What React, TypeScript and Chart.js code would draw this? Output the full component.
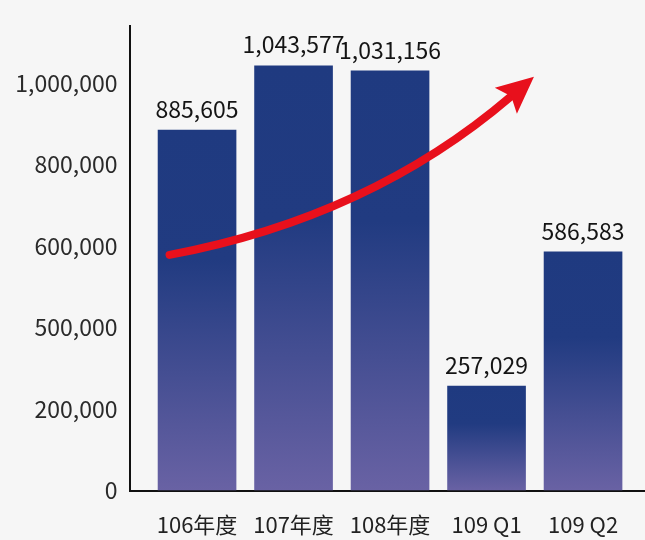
import React, { useEffect, useRef } from "react";
import { Chart, registerables } from "chart.js";

Chart.register(...registerables);

const categories: string[] = ["106年度", "107年度", "108年度", "109 Q1", "109 Q2"];
const values: number[] = [885605, 1043577, 1031156, 257029, 586583];
const valueLabels: string[] = ["885,605", "1,043,577", "1,031,156", "257,029", "586,583"];
const yTickValues: number[] = [0, 200000, 400000, 600000, 800000, 1000000];
const yTickLabels: string[] = ["0", "200,000", "500,000", "600,000", "800,000", "1,000,000"];
// trend arrow path in data space: [x (category index), y (value)]
const arrowStart: [number, number] = [-0.285, 578600];
const arrowControl: [number, number] = [1.79, 671100];
const arrowEnd: [number, number] = [3.2, 957000];

const FONT = '"Noto Sans CJK TC", "Noto Sans", sans-serif';

export default function App() {
  const ref = useRef<HTMLCanvasElement | null>(null);
  useEffect(() => {
    document.body.style.margin = "0";
    const canvas = ref.current;
    if (!canvas) return;

    const barColor = (ctx: any) => {
      const chart = ctx.chart;
      const ys = chart.scales && chart.scales.y;
      if (!chart.chartArea || !ys || ctx.type !== "data") return "#1f3a80";
      const top = ys.getPixelForValue(values[ctx.dataIndex]);
      const base = ys.getPixelForValue(0);
      const g = chart.ctx.createLinearGradient(0, top, 0, base);
      g.addColorStop(0, "#1f3a80");
      g.addColorStop(0.36, "#213b81");
      g.addColorStop(1, "#6962a4");
      return g;
    };

    const overlay = {
      id: "overlay",
      afterDatasetsDraw(chart: any) {
        const c = chart.ctx;
        const xs = chart.scales.x;
        const ys = chart.scales.y;
        c.save();
        c.font = `23px ${FONT}`;
        c.fillStyle = "#141414";
        c.textAlign = "center";
        c.textBaseline = "alphabetic";
        const meta = chart.getDatasetMeta(0);
        meta.data.forEach((el: any, i: number) => {
          c.fillText(valueLabels[i], el.x, el.y - 12);
        });
        c.restore();
        const p0 = { x: xs.getPixelForValue(arrowStart[0]), y: ys.getPixelForValue(arrowStart[1]) };
        const cp = { x: xs.getPixelForValue(arrowControl[0]), y: ys.getPixelForValue(arrowControl[1]) };
        const p2 = { x: xs.getPixelForValue(arrowEnd[0]), y: ys.getPixelForValue(arrowEnd[1]) };
        const dx = p2.x - cp.x;
        const dy = p2.y - cp.y;
        const len = Math.hypot(dx, dy);
        const ux = dx / len;
        const uy = dy / len;
        const px = -uy;
        const py = ux;
        const red = "#e8101c";
        c.save();
        c.strokeStyle = red;
        c.lineWidth = 8;
        c.lineCap = "round";
        c.beginPath();
        c.moveTo(p0.x, p0.y);
        c.quadraticCurveTo(cp.x, cp.y, p2.x + ux * 6, p2.y + uy * 6);
        c.stroke();
        const headLen = 37;
        const halfW = 17;
        const tip = { x: p2.x + ux * headLen, y: p2.y + uy * headLen };
        c.fillStyle = red;
        c.beginPath();
        c.moveTo(tip.x, tip.y);
        c.lineTo(p2.x + px * halfW, p2.y + py * halfW);
        c.lineTo(p2.x + ux * 7, p2.y + uy * 7);
        c.lineTo(p2.x - px * halfW, p2.y - py * halfW);
        c.closePath();
        c.fill();
        c.restore();
      },
    };

    const chart = new Chart(canvas, {
      type: "bar",
      data: {
        datasets: [
          {
            data: values.map((v, i) => ({ x: i, y: v })),
            backgroundColor: barColor,
            borderWidth: 0,
            barPercentage: 0.815,
            categoryPercentage: 1,
          },
        ],
      },
      options: {
        animation: false,
        responsive: true,
        maintainAspectRatio: false,
        layout: { padding: { top: 22, right: 0, left: 0, bottom: 0 } },
        plugins: { legend: { display: false }, tooltip: { enabled: false } },
        scales: {
          x: {
            type: "linear",
            min: -0.7,
            max: 4.642,
            offset: false,
            grace: 0,
            grid: { display: false, drawTicks: false, offset: false },
            border: { display: true, color: "#111", width: 2 },
            afterBuildTicks: (scale: any) => {
              scale.ticks = categories.map((_, i) => ({ value: i }));
            },
            afterFit: (scale: any) => {
              scale.height = 49.5;
            },
            ticks: {
              padding: 21,
              color: "#222",
              font: { family: FONT, size: 22 },
              maxRotation: 0,
              autoSkip: false,
              callback: (v: any) => categories[Math.round(Number(v))] ?? "",
            },
          },
          y: {
            min: 0,
            max: 1141000,
            grid: { display: false, drawTicks: false },
            border: { display: true, color: "#111", width: 2 },
            afterBuildTicks: (scale: any) => {
              scale.ticks = yTickValues.map((v) => ({ value: v }));
            },
            afterFit: (scale: any) => {
              scale.width = 129.5;
            },
            ticks: {
              padding: 12,
              color: "#2a2a2a",
              font: { family: FONT, size: 23 },
              callback: (v: any) => {
                const i = yTickValues.indexOf(Number(v));
                return i >= 0 ? yTickLabels[i] : "";
              },
            },
          },
        },
      },
      plugins: [overlay],
    } as any);
    return () => chart.destroy();
  }, []);

  return (
    <div style={{ width: 645, height: 540, background: "#f6f6f6", position: "relative" }}>
      <canvas ref={ref} />
    </div>
  );
}
